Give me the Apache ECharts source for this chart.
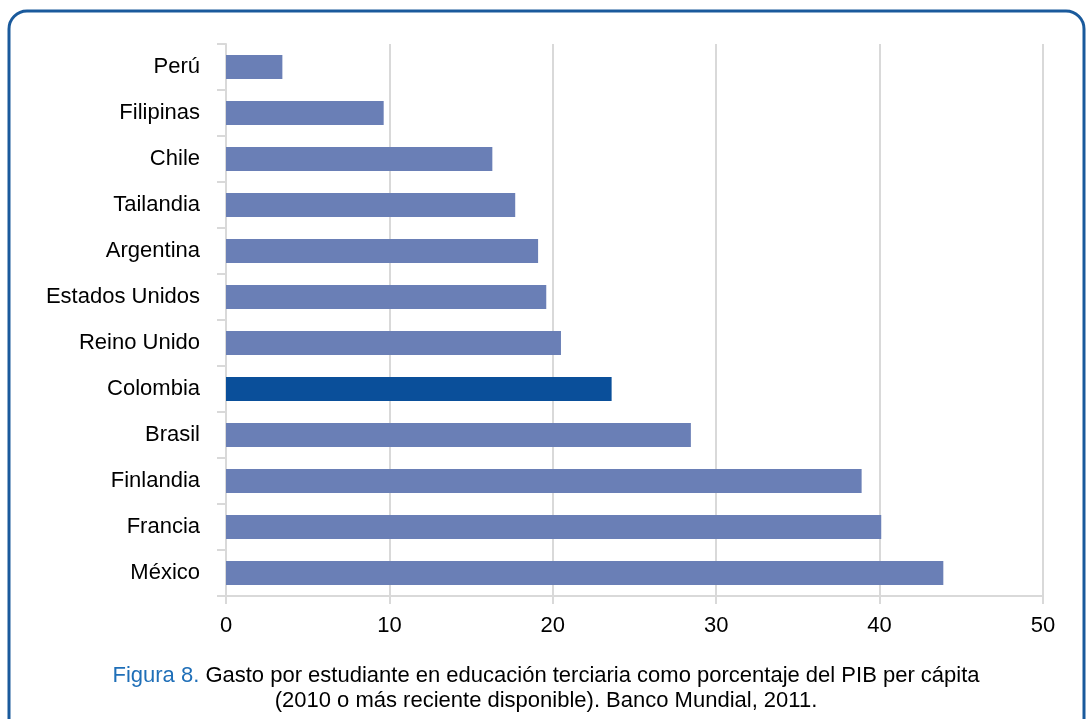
<!DOCTYPE html>
<html><head><meta charset="utf-8">
<script src="https://cdn.jsdelivr.net/npm/echarts@6/dist/echarts.min.js"></script>
<style>html,body{margin:0;padding:0;background:#fff}#c{width:1092px;height:719px}</style>
</head><body><div id="c"></div>
<script>
const categories = ["Perú","Filipinas","Chile","Tailandia","Argentina","Estados Unidos","Reino Unido","Colombia","Brasil","Finlandia","Francia","México"];
const values = [3.45, 9.65, 16.3, 17.7, 19.1, 19.6, 20.5, 23.6, 28.45, 38.9, 40.1, 43.9];
const highlight = "Colombia";
const xTicks = [0, 10, 20, 30, 40, 50];
const FONT = "'Liberation Sans', Arial, sans-serif";

const chart = echarts.init(document.getElementById('c'), null, {renderer: 'canvas'});
chart.setOption({
  animation: false,
  grid: {left: 226, right: 49, top: 44, bottom: 123, containLabel: false},
  xAxis: {
    type: 'value', min: xTicks[0], max: xTicks[xTicks.length-1], interval: 10,
    axisLine: {show: true, lineStyle: {color: '#d9d9d9', width: 2}},
    axisTick: {show: true, length: 8, lineStyle: {color: '#d9d9d9', width: 2}},
    splitLine: {show: true, lineStyle: {color: '#d9d9d9', width: 2}},
    axisLabel: {color: '#000', fontSize: 22, fontFamily: FONT, margin: 19}
  },
  yAxis: {
    type: 'category', data: categories, inverse: true,
    axisLine: {show: true, lineStyle: {color: '#d9d9d9', width: 2}},
    axisTick: {show: true, length: 9, lineStyle: {color: '#d9d9d9', width: 2}},
    axisLabel: {color: '#000', fontSize: 22, fontFamily: FONT, margin: 26}
  },
  series: [{
    type: 'bar', barWidth: 24,
    data: values.map((v, i) => ({value: v, itemStyle: {color: categories[i] === highlight ? '#0a4f9a' : '#6a7fb6'}}))
  }],
  graphic: [
    {type: 'rect', shape: {x: 9, y: 11, width: 1075, height: 760, r: 18}, style: {fill: 'none', stroke: '#1a5a9c', lineWidth: 3}},
    {type: 'text', left: 'center', top: 665, style: {
      rich: {b: {fill: '#1f6fb8', fontSize: 22, fontFamily: FONT}, n: {fill: '#000', fontSize: 22, fontFamily: FONT}},
      text: '{b|Figura 8.}{n| Gasto por estudiante en educación terciaria como porcentaje del PIB per cápita}',
      align: 'center'}},
    {type: 'text', left: 'center', top: 690, style: {
      text: '(2010 o más reciente disponible). Banco Mundial, 2011.', fill: '#000', fontSize: 22, fontFamily: FONT, align: 'center'}}
  ]
});
</script></body></html>
